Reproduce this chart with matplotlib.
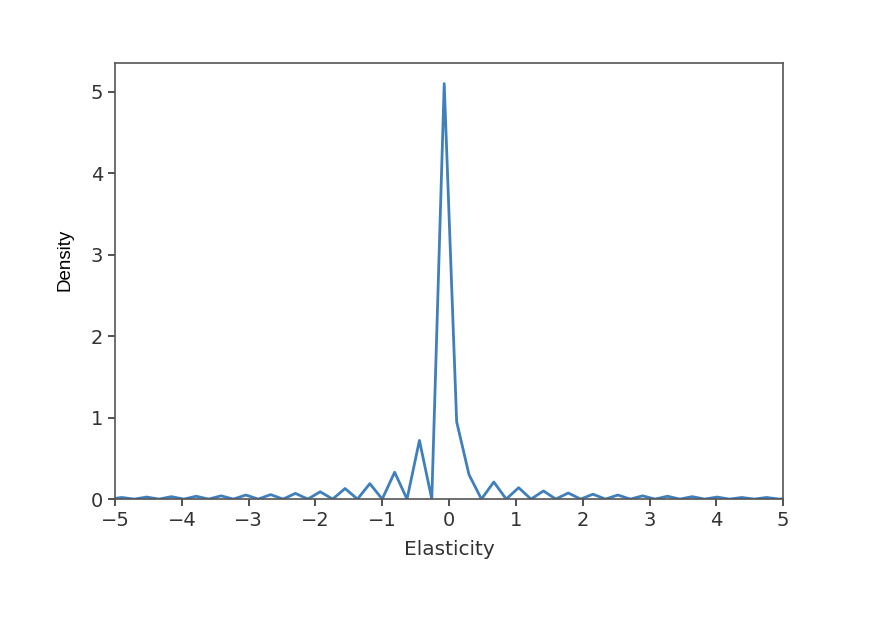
import matplotlib
matplotlib.use("Agg")
import matplotlib.pyplot as plt

# grid of elasticity values
elasticity = [-5.084, -4.898, -4.713, -4.527, -4.341, -4.156, -3.970, -3.785,
              -3.599, -3.413, -3.228, -3.042, -2.857, -2.671, -2.485, -2.300,
              -2.114, -1.929, -1.743, -1.557, -1.372, -1.186, -1.001, -0.815,
              -0.630, -0.444, -0.259, -0.073, 0.113, 0.298, 0.484, 0.669,
              0.855, 1.041, 1.226, 1.412, 1.597, 1.783, 1.969, 2.154,
              2.340, 2.525, 2.711, 2.897, 3.082, 3.268, 3.453, 3.639,
              3.825, 4.010, 4.196, 4.381, 4.567, 4.753, 4.938, 5.124]

density = [0.0, 0.02, 0.0, 0.025, 0.0, 0.03, 0.0, 0.035,
           0.0, 0.04, 0.0, 0.05, 0.0, 0.055, 0.0, 0.07,
           0.0, 0.09, 0.0, 0.13, 0.0, 0.19, 0.0, 0.33,
           0.0, 0.72, 0.0, 5.10, 0.95, 0.30, 0.0, 0.21,
           0.0, 0.14, 0.0, 0.10, 0.0, 0.075, 0.0, 0.06,
           0.0, 0.05, 0.0, 0.04, 0.0, 0.035, 0.0, 0.03,
           0.0, 0.025, 0.0, 0.02, 0.0, 0.02, 0.0, 0.015]

xticks = [-5, -4, -3, -2, -1, 0, 1, 2, 3, 4, 5]
yticks = [0, 1, 2, 3, 4, 5]

fig = plt.figure(figsize=(8.78, 6.2), dpi=100)
ax = fig.add_axes([0.131, 0.195, 0.761, 0.703])

ax.plot(elasticity, density, color="#3f7fbc", lw=2.0)

ax.set_xlim(-5, 5)
ax.set_ylim(0, 5.35)
ax.set_xticks(xticks)
ax.set_yticks(yticks)
ax.tick_params(labelsize=14, colors="#333333", length=5, width=1.2)
for s in ax.spines.values():
    s.set_color("#555555")
    s.set_linewidth(1.2)

ax.set_xlabel("Elasticity", fontsize=14.5, color="#333333", labelpad=7)
ax.set_ylabel("Density", fontsize=13.5, color="black", family="Liberation Sans")
ax.yaxis.set_label_coords(-0.062, 0.55)

fig.savefig("out.png")
